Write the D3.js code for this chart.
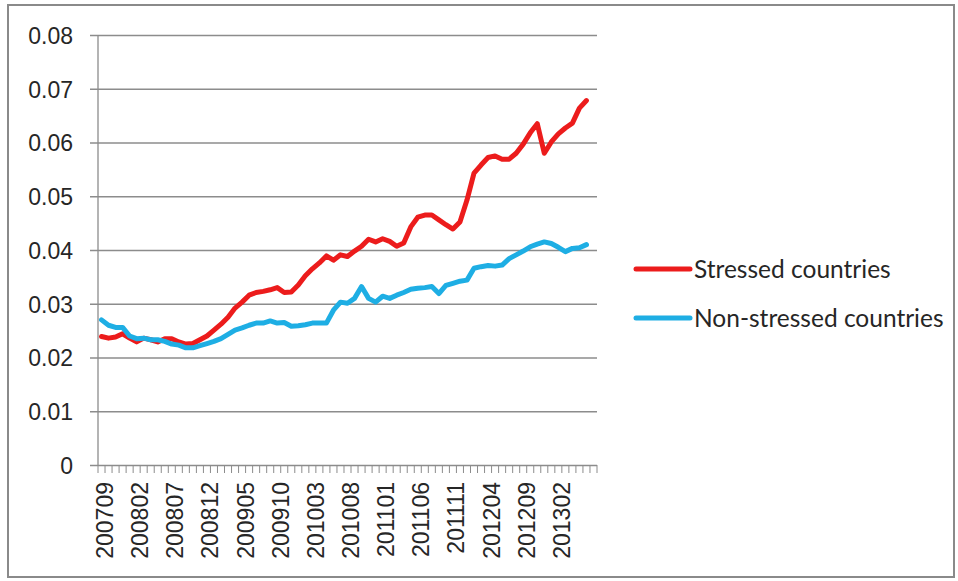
<!DOCTYPE html>
<html>
<head>
<meta charset="utf-8">
<script src="https://cdn.jsdelivr.net/npm/d3@7"></script>
<style>
  body { margin: 0; background: #fff; }
  svg { display: block; }
</style>
</head>
<body>
<div class="chart"></div>
<script>
// months on the category axis (one empty slot after the last data point)
const months = [];
for (let y = 2007, m = 9; y * 100 + m <= 201307; m++) {
  if (m > 12) { m = 1; y++; }
  months.push(String(y * 100 + m));
}
const labelMonths = ["200709", "200802", "200807", "200812", "200905", "200910", "201003",
  "201008", "201101", "201106", "201111", "201204", "201209", "201302"];

const stressed = [
  0.0239, 0.0236, 0.0238, 0.0244, 0.0236, 0.0229, 0.0236, 0.0233, 0.0229, 0.0235,
  0.0235, 0.0229, 0.0225, 0.0226, 0.0233, 0.0240, 0.0251, 0.0262, 0.0275, 0.0292,
  0.0303, 0.0316, 0.0321, 0.0323, 0.0326, 0.0330, 0.0321, 0.0322, 0.0335, 0.0352,
  0.0365, 0.0376, 0.0389, 0.0381, 0.0391, 0.0388, 0.0398, 0.0407, 0.0420, 0.0415,
  0.0421, 0.0416, 0.0407, 0.0413, 0.0443, 0.0461, 0.0465, 0.0465, 0.0456, 0.0447,
  0.0439, 0.0452, 0.0493, 0.0543, 0.0558, 0.0572, 0.0575, 0.0569, 0.0569, 0.0580,
  0.0597, 0.0618, 0.0635, 0.0580, 0.0601, 0.0616, 0.0627, 0.0636, 0.0664, 0.0678
];
const nonStressed = [
  0.0270, 0.0260, 0.0256, 0.0256, 0.0240, 0.0235, 0.0236, 0.0233, 0.0233, 0.0230,
  0.0225, 0.0223, 0.0218, 0.0218, 0.0222, 0.0226, 0.0230, 0.0235, 0.0243, 0.0251,
  0.0255, 0.0260, 0.0264, 0.0264, 0.0268, 0.0264, 0.0265, 0.0258, 0.0259, 0.0261,
  0.0264, 0.0264, 0.0264, 0.0288, 0.0303, 0.0301, 0.0310, 0.0332, 0.0310, 0.0303,
  0.0314, 0.0310, 0.0316, 0.0321, 0.0327, 0.0329, 0.0330, 0.0332, 0.0319, 0.0334,
  0.0338, 0.0342, 0.0344, 0.0366, 0.0369, 0.0371, 0.0370, 0.0372, 0.0384, 0.0391,
  0.0398, 0.0406, 0.0411, 0.0415, 0.0412, 0.0405, 0.0397, 0.0403, 0.0404, 0.0410
];
const yTicks = [0, 0.01, 0.02, 0.03, 0.04, 0.05, 0.06, 0.07, 0.08];

const series = [
  {name: "Stressed countries", values: stressed, color: "#ec1c1c"},
  {name: "Non-stressed countries", values: nonStressed, color: "#1eaee4"}
];

function drawChart() {
  const width = 958;
  const height = 581;
  const margins = {top: 35, bottom: 116, left: 98, right: 361};

  const svg = d3.select(".chart").append("svg")
    .attr("width", width)
    .attr("height", height);

  // outer frame
  svg.append("rect")
    .attr("x", 8).attr("y", 5)
    .attr("width", 946).attr("height", 572)
    .attr("fill", "none")
    .attr("stroke", "#8a8a8a")
    .attr("stroke-width", 2);

  const xScale = d3.scaleBand()
    .domain(months)
    .range([margins.left, width - margins.right]);

  const yScale = d3.scaleLinear()
    .domain([0, 0.08])
    .range([height - margins.bottom, margins.top]);

  // gridlines + y axis
  const yAxis = d3.axisLeft(yScale)
    .tickValues(yTicks)
    .tickSize(-(width - margins.right - margins.left) - 8)
    .tickPadding(17)
    .tickFormat(d => d == 0 ? "0" : d3.format(".2f")(d));

  const gy = svg.append("g")
    .attr("transform", `translate(${margins.left - 8}, 0)`)
    .call(yAxis);
  gy.select(".domain").remove();
  gy.selectAll("line")
    .attr("stroke", "#8c8c8c")
    .attr("stroke-width", 1.3);
  gy.selectAll("text")
    .attr("fill", "#262626")
    .style("font-family", "'Liberation Sans', Arial, sans-serif")
    .style("font-size", "23px")
    .attr("dy", "0.36em");

  // vertical axis line
  svg.append("line")
    .attr("x1", margins.left).attr("x2", margins.left)
    .attr("y1", margins.top).attr("y2", height - margins.bottom)
    .attr("stroke", "#8c8c8c")
    .attr("stroke-width", 1.3);

  // x tick marks between categories
  const xEdges = months.map(d => xScale(d)).concat([xScale.range()[1]]);
  svg.append("g").selectAll("line")
    .data(xEdges)
    .enter()
    .append("line")
      .attr("x1", d => d).attr("x2", d => d)
      .attr("y1", height - margins.bottom)
      .attr("y2", height - margins.bottom + 8)
      .attr("stroke", "#8c8c8c")
      .attr("stroke-width", 1);

  // x labels
  const xAxis = d3.axisBottom(xScale)
    .tickValues(labelMonths)
    .tickSize(0);
  const gx = svg.append("g")
    .attr("transform", `translate(0, ${height - margins.bottom})`)
    .call(xAxis);
  gx.select(".domain").remove();
  gx.selectAll("text")
    .attr("fill", "#262626")
    .style("font-family", "'Liberation Sans', Arial, sans-serif")
    .style("font-size", "23px")
    .attr("text-anchor", "end")
    .attr("transform", "translate(11.5, 17) rotate(-90)")
    .attr("x", 0).attr("y", 0).attr("dy", 0);

  // lines
  const line = d3.line()
    .x((d, i) => xScale(months[i]) + xScale.bandwidth() / 2)
    .y(d => yScale(d));

  for (const s of series) {
    svg.append("path")
      .attr("fill", "none")
      .attr("stroke", s.color)
      .attr("stroke-width", 5)
      .attr("stroke-linejoin", "round")
      .attr("stroke-linecap", "round")
      .attr("d", line(s.values));
  }

  // legend
  const legend = svg.append("g");
  legend.selectAll("lines")
    .data(series)
    .enter()
    .append("line")
      .attr("x1", 636).attr("x2", 690)
      .attr("y1", (d, i) => 269 + i * 49)
      .attr("y2", (d, i) => 269 + i * 49)
      .attr("stroke", d => d.color)
      .attr("stroke-width", 5)
      .attr("stroke-linecap", "round");
  legend.selectAll("tags")
    .data(series)
    .enter()
    .append("text")
      .attr("x", 694)
      .attr("y", (d, i) => 269 + i * 49)
      .attr("dy", "0.35em")
      .attr("fill", "#262626")
      .style("font-family", "Lato, 'Open Sans', sans-serif")
      .style("font-size", "24.5px")
      .text(d => d.name);
}

drawChart();
</script>
</body>
</html>
